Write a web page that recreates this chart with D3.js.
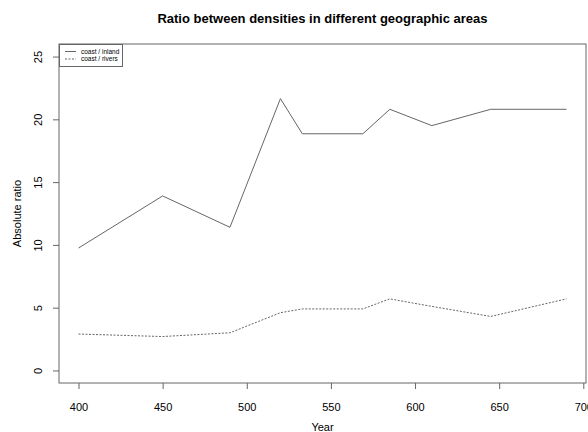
<!DOCTYPE html>
<html>
<head>
<meta charset="utf-8">
<script src="https://cdn.jsdelivr.net/npm/d3@7"></script>
<style>
  body { margin: 0; background: #fff; }
  text { font-family: "Liberation Sans", Arial, sans-serif; fill: #000; }
</style>
</head>
<body>
<div id="chart"></div>
<script>
// data
var years = [400, 450, 490, 520, 533, 569, 585, 610, 645, 690];
var coastInland = [9.75, 13.9, 11.4, 21.65, 18.85, 18.85, 20.8, 19.5, 20.8, 20.8];
var coastRivers = [2.9, 2.7, 3.0, 4.6, 4.9, 4.9, 5.7, 5.1, 4.3, 5.7];
var xTicks = [400, 450, 500, 550, 600, 650, 700];
var yTicks = [0, 5, 10, 15, 20, 25];
var seriesNames = ["coast / inland", "coast / rivers"];

var width = 588, height = 432;
var margin = { top: 44, right: 2, bottom: 49, left: 59 };
var lineColor = "#666";

var svg = d3.select("#chart")
    .append("svg")
    .attr("width", width)
    .attr("height", height);

// R style 4% padding
var x = d3.scaleLinear()
    .domain([388.4, 701.6])
    .range([margin.left, width - margin.right]);

var y = d3.scaleLinear()
    .domain([-1, 26])
    .range([height - margin.bottom, margin.top]);

// plot box
svg.append("rect")
    .attr("x", margin.left)
    .attr("y", margin.top)
    .attr("width", width - margin.right - margin.left)
    .attr("height", height - margin.bottom - margin.top)
    .attr("fill", "none")
    .attr("stroke", lineColor)
    .attr("stroke-width", 1);

// x axis
var xAxis = svg.append("g")
    .attr("transform", `translate(0, ${height - margin.bottom})`)
    .call(d3.axisBottom(x).tickValues(xTicks).tickSize(6).tickPadding(14).tickFormat(d3.format("d")));
xAxis.select(".domain").remove();
xAxis.selectAll("line").attr("stroke", lineColor);
xAxis.selectAll("text").style("font-size", "11px").attr("fill", "#000");

// y axis, labels rotated like R default
var yAxis = svg.append("g")
    .attr("transform", `translate(${margin.left}, 0)`)
    .call(d3.axisLeft(y).tickValues(yTicks).tickSize(6));
yAxis.select(".domain").remove();
yAxis.selectAll("line").attr("stroke", lineColor);
yAxis.selectAll("text")
    .style("font-size", "11px")
    .attr("fill", "#000")
    .attr("x", 0).attr("dy", 0)
    .attr("text-anchor", "middle")
    .attr("transform", "translate(-17, 0) rotate(-90)");

// lines
var line = d3.line()
    .x(function(d, i){ return x(years[i]); })
    .y(function(d){ return y(d); });

svg.append("path")
    .datum(coastInland)
    .attr("d", line)
    .attr("fill", "none")
    .attr("stroke", lineColor)
    .attr("stroke-width", 1);

svg.append("path")
    .datum(coastRivers)
    .attr("d", line)
    .attr("fill", "none")
    .attr("stroke", lineColor)
    .attr("stroke-width", 1)
    .attr("stroke-dasharray", "2,1.5");

// titles
svg.append("text")
    .attr("x", (margin.left + width - margin.right) / 2)
    .attr("y", 23)
    .attr("text-anchor", "middle")
    .style("font-size", "13px")
    .style("font-weight", "bold")
    .text("Ratio between densities in different geographic areas");

svg.append("text")
    .attr("x", (margin.left + width - margin.right) / 2)
    .attr("y", 431)
    .attr("text-anchor", "middle")
    .style("font-size", "11px")
    .text("Year");

svg.append("text")
    .attr("transform", `translate(21, ${(margin.top + height - margin.bottom) / 2}) rotate(-90)`)
    .attr("text-anchor", "middle")
    .style("font-size", "11px")
    .text("Absolute ratio");

// legend
var legend = svg.append("g");
legend.append("rect")
    .attr("x", margin.left + 0.5)
    .attr("y", margin.top + 0.5)
    .attr("width", 63)
    .attr("height", 22)
    .attr("fill", "#fff")
    .attr("stroke", lineColor)
    .attr("stroke-width", 1);

seriesNames.forEach(function(name, i){
    var ly = margin.top + 7.5 + i * 7.5;
    legend.append("line")
        .attr("x1", margin.left + 6)
        .attr("x2", margin.left + 17)
        .attr("y1", ly).attr("y2", ly)
        .attr("stroke", lineColor)
        .attr("stroke-width", 1)
        .attr("stroke-dasharray", i === 1 ? "2,1.5" : null);
    legend.append("text")
        .attr("x", margin.left + 22)
        .attr("y", ly + 2.2)
        .style("font-size", "6.5px")
        .text(name);
});
</script>
</body>
</html>
